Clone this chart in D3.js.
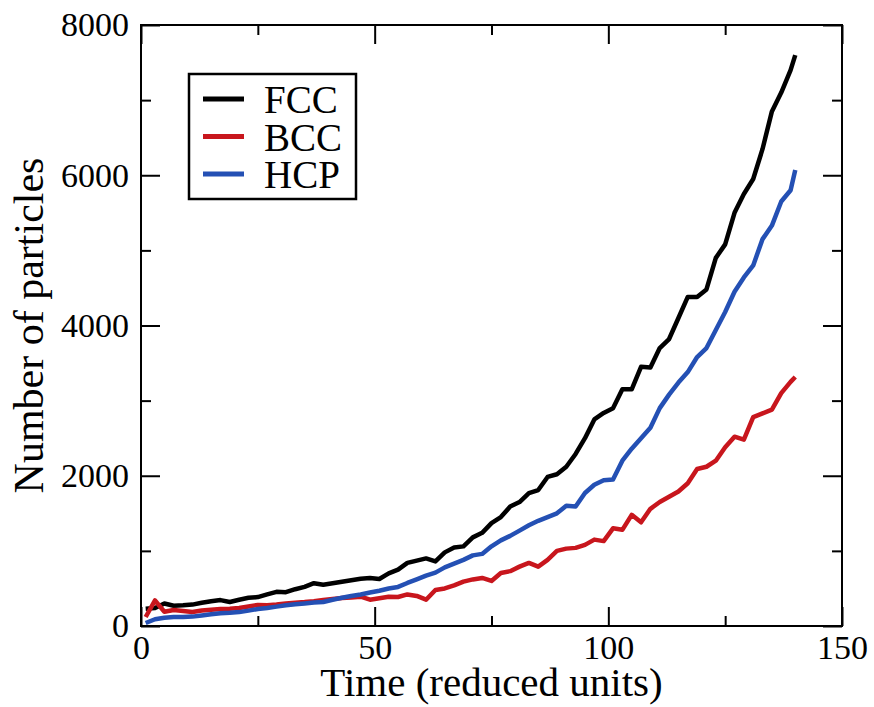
<!DOCTYPE html>
<html>
<head>
<meta charset="utf-8">
<script src="https://cdn.jsdelivr.net/npm/d3@7"></script>
<style>
  body { margin: 0; background: #fff; }
  svg { display: block; }
  text { font-family: "Liberation Serif", "DejaVu Serif", serif; fill: #000; }
</style>
</head>
<body>
<div id="chart"></div>
<script>
const width = 874;
const height = 707;
const margin = { top: 25, right: 32, bottom: 81, left: 141 };
const plotW = width - margin.left - margin.right;
const plotH = height - margin.top - margin.bottom;

// time axis (reduced units), shared by all three runs
const time = [1, 3, 5, 7, 9, 11, 13, 15, 17, 19, 21, 23, 25, 27, 29, 31, 33, 35, 37, 39,
  41, 43, 45, 47, 49, 51, 53, 55, 57, 59, 61, 63, 65, 67, 69, 71, 73, 75, 77, 79,
  81, 83, 85, 87, 89, 91, 93, 95, 97, 99, 101, 103, 105, 107, 109, 111, 113, 115, 117, 119,
  121, 123, 125, 127, 129, 131, 133, 135, 137, 139, 140];

const fcc = [230, 240, 300, 270, 275, 285, 310, 330, 345, 320, 350, 375, 385, 420, 455, 450, 490, 520, 570, 550,
  570, 590, 610, 630, 640, 625, 700, 750, 840, 870, 900, 860, 980, 1045, 1060, 1180, 1240, 1370, 1450, 1590,
  1650, 1770, 1810, 1984, 2020, 2120, 2290, 2500, 2750, 2836, 2900, 3150, 3150, 3450, 3440, 3700, 3820, 4100, 4380, 4380,
  4480, 4900, 5080, 5500, 5750, 5950, 6350, 6850, 7100, 7400, 7600];

const bcc = [120, 340, 190, 213, 200, 186, 205, 215, 226, 230, 240, 260, 280, 275, 285, 300, 310, 318, 330, 346,
  360, 373, 380, 390, 350, 370, 390, 386, 420, 400, 350, 480, 500, 540, 590, 620, 640, 600, 706, 730,
  790, 840, 790, 880, 1000, 1030, 1040, 1080, 1150, 1130, 1300, 1280, 1480, 1380, 1560, 1650, 1720, 1790, 1900, 2090,
  2120, 2200, 2380, 2520, 2480, 2780, 2830, 2880, 3100, 3250, 3315];

const hcp = [40, 90, 110, 120, 120, 125, 140, 155, 170, 175, 185, 205, 226, 240, 258, 275, 290, 300, 312, 320,
  350, 375, 400, 420, 445, 470, 500, 520, 573, 620, 670, 710, 780, 830, 880, 940, 960, 1060, 1140, 1200,
  1270, 1340, 1400, 1450, 1500, 1600, 1590, 1770, 1880, 1940, 1950, 2200, 2360, 2500, 2640, 2900, 3080, 3240, 3380, 3580,
  3700, 3940, 4180, 4450, 4640, 4800, 5150, 5330, 5650, 5800, 6070];

const seriesNames = ["FCC", "BCC", "HCP"];
const seriesColors = ["#000000", "#c8161d", "#2450b4"];
const seriesValues = [fcc, bcc, hcp];

const xMajor = [0, 50, 100, 150];
const xMinor = [25, 75, 125];
const yMajor = [0, 2000, 4000, 6000, 8000];
const yMinor = [1000, 3000, 5000, 7000];

const svg = d3.select("#chart")
  .append("svg")
  .attr("width", width)
  .attr("height", height);

const g = svg.append("g")
  .attr("transform", `translate(${margin.left},${margin.top})`);

const x = d3.scaleLinear().domain([0, 150]).range([0, plotW]);
const y = d3.scaleLinear().domain([0, 8000]).range([plotH, 0]);

// ticks point inward on all four sides
function styleAxis(sel) {
  sel.select(".domain").remove();
  sel.selectAll(".tick line").attr("stroke", "#000").attr("stroke-width", 2);
  sel.selectAll(".tick text").attr("font-size", 34).attr("font-family", '"Liberation Serif", serif');
}

g.append("g")
  .attr("transform", `translate(0,${plotH})`)
  .call(d3.axisBottom(x).tickValues(xMajor).tickSize(-19).tickPadding(9).tickFormat(d3.format("d")))
  .call(styleAxis);
g.append("g")
  .attr("transform", `translate(0,${plotH})`)
  .call(d3.axisBottom(x).tickValues(xMinor).tickSize(-10).tickFormat(""))
  .call(styleAxis);
g.append("g")
  .call(d3.axisTop(x).tickValues(xMajor).tickSize(-19).tickFormat(""))
  .call(styleAxis);
g.append("g")
  .call(d3.axisTop(x).tickValues(xMinor).tickSize(-10).tickFormat(""))
  .call(styleAxis);

g.append("g")
  .call(d3.axisLeft(y).tickValues(yMajor).tickSize(-19).tickPadding(12).tickFormat(d3.format("d")))
  .call(styleAxis);
g.append("g")
  .call(d3.axisLeft(y).tickValues(yMinor).tickSize(-10).tickFormat(""))
  .call(styleAxis);
g.append("g")
  .attr("transform", `translate(${plotW},0)`)
  .call(d3.axisRight(y).tickValues(yMajor).tickSize(-19).tickFormat(""))
  .call(styleAxis);
g.append("g")
  .attr("transform", `translate(${plotW},0)`)
  .call(d3.axisRight(y).tickValues(yMinor).tickSize(-10).tickFormat(""))
  .call(styleAxis);

// curves
const line = d3.line()
  .x((d, i) => x(time[i]))
  .y(d => y(d));

seriesValues.forEach((vals, k) => {
  g.append("path")
    .datum(vals)
    .attr("fill", "none")
    .attr("stroke", seriesColors[k])
    .attr("stroke-width", 4.5)
    .attr("stroke-linejoin", "round")
    .attr("d", line);
});

// frame
g.append("rect")
  .attr("width", plotW)
  .attr("height", plotH)
  .attr("fill", "none")
  .attr("stroke", "#000")
  .attr("stroke-width", 2);

// axis titles
svg.append("text")
  .attr("x", margin.left + plotW / 2)
  .attr("y", 696)
  .attr("text-anchor", "middle")
  .attr("font-size", 41)
  .text("Time (reduced units)");

svg.append("text")
  .attr("transform", `translate(43,${margin.top + plotH / 2}) rotate(-90)`)
  .attr("text-anchor", "middle")
  .attr("font-size", 42)
  .text("Number of particles");

// legend
const legend = svg.append("g").attr("transform", "translate(189,74)");
legend.append("rect")
  .attr("width", 167)
  .attr("height", 125)
  .attr("fill", "#fff")
  .attr("stroke", "#000")
  .attr("stroke-width", 2.5);

seriesNames.forEach((name, k) => {
  const row = legend.append("g").attr("transform", `translate(0,${25 + k * 37.5})`);
  row.append("line")
    .attr("x1", 14).attr("x2", 55)
    .attr("stroke", seriesColors[k])
    .attr("stroke-width", 5);
  row.append("text")
    .attr("x", 75)
    .attr("y", 14)
    .attr("font-size", 39)
    .text(name);
});
</script>
</body>
</html>
